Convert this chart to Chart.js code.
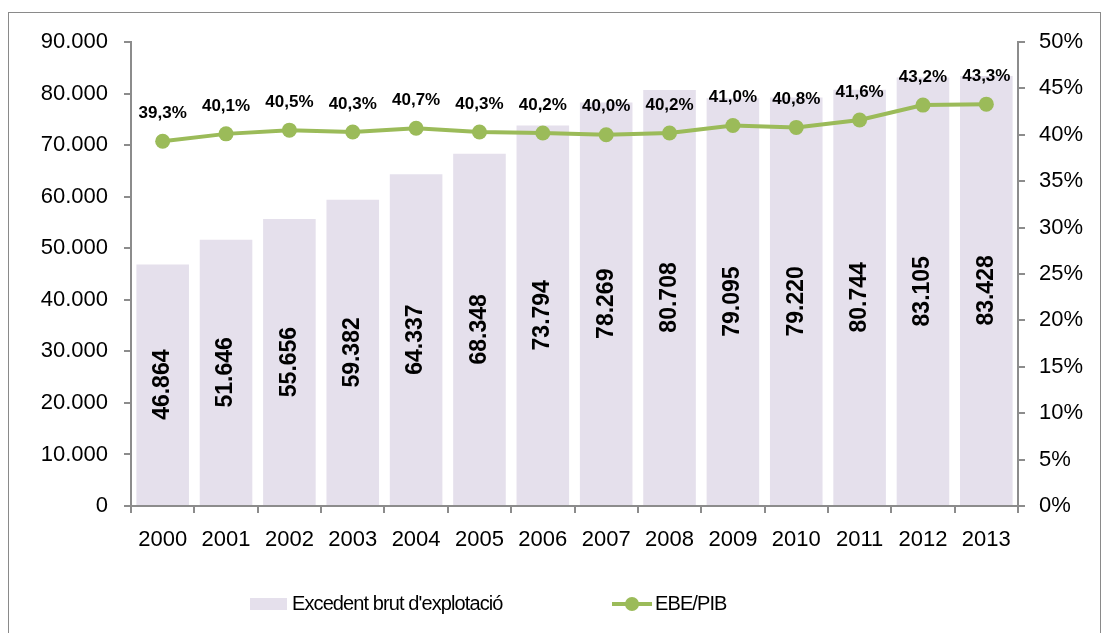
<!DOCTYPE html>
<html lang="ca">
<head>
<meta charset="UTF-8">
<title>Excedent brut d'explotació</title>
<style>
  body { margin: 0; background: #fff; }
  #wrap { position: relative; width: 1105px; height: 633px; overflow: hidden; }
  #frame { position: absolute; left: 8px; top: 12px; width: 1091px; height: 640px; border: 1px solid #8a8a8a; pointer-events: none; }
</style>
</head>
<body>
<div id="wrap">
  <canvas id="myChart"></canvas>
  <div id="frame"></div>
</div>

<script src="https://cdn.jsdelivr.net/npm/chart.js"></script>
<script>
// dades
const years = ["2000","2001","2002","2003","2004","2005","2006","2007","2008","2009","2010","2011","2012","2013"];
const ebe = [46864, 51646, 55656, 59382, 64337, 68348, 73794, 78269, 80708, 79095, 79220, 80744, 83105, 83428];
const ebePib = [39.3, 40.1, 40.5, 40.3, 40.7, 40.3, 40.2, 40.0, 40.2, 41.0, 40.8, 41.6, 43.2, 43.3];

const barColor = '#e5e0ec';
const lineColor = '#9bbb59';
const axisColor = '#8c8c8c';
const fontFam = '"Liberation Sans", Arial, sans-serif';

function fmtThousands(v){
    return String(Math.round(v)).replace(/\B(?=(\d{3})+(?!\d))/g, '.');
}

// etiquetes de dades + llegenda
const labelsPlugin = {
    id: 'labels',
    afterDatasetsDraw(chart){
        const ctx = chart.ctx;
        ctx.save();
        ctx.fillStyle = '#000';
        // barres: text vertical al mig
        const barMeta = chart.getDatasetMeta(0);
        ctx.font = 'bold 23px ' + fontFam;
        ctx.textAlign = 'center';
        ctx.textBaseline = 'middle';
        barMeta.data.forEach(function(el, i){
            ctx.save();
            ctx.translate(el.x, (el.y + el.base) / 2);
            ctx.rotate(-Math.PI / 2);
            ctx.fillText(fmtThousands(ebe[i]), 0, 0);
            ctx.restore();
        });
        // línia: sobre el punt
        const lineMeta = chart.getDatasetMeta(1);
        ctx.font = 'bold 17px ' + fontFam;
        lineMeta.data.forEach(function(el, i){
            ctx.fillText(ebePib[i].toFixed(1).replace('.', ',') + '%', el.x, el.y - 28);
        });
        ctx.restore();
    },
    afterDraw(chart){
        const ctx = chart.ctx;
        const y = 604;
        ctx.save();
        ctx.font = '20px ' + fontFam;
        ctx.textBaseline = 'middle';
        ctx.textAlign = 'left';
        ctx.fillStyle = '#000';
        if ('letterSpacing' in ctx) ctx.letterSpacing = '-0.9px';
        // barra
        ctx.fillStyle = barColor;
        ctx.fillRect(250, y - 6, 37, 12);
        ctx.fillStyle = '#000';
        ctx.fillText(chart.data.datasets[0].label, 292, y);
        // línia
        ctx.strokeStyle = lineColor;
        ctx.lineWidth = 4;
        ctx.beginPath();
        ctx.moveTo(612, y);
        ctx.lineTo(652, y);
        ctx.stroke();
        ctx.fillStyle = lineColor;
        ctx.beginPath();
        ctx.arc(632, y, 7, 0, Math.PI * 2);
        ctx.fill();
        ctx.fillStyle = '#000';
        ctx.fillText(chart.data.datasets[1].label, 655, y);
        ctx.restore();
    }
};

const ctx = document.getElementById('myChart');
const myChart = new Chart(ctx, {
    type: 'bar',
    data: {
        labels: years,
        datasets: [{
            type: 'bar',
            label: "Excedent brut d'explotació",
            data: ebe,
            backgroundColor: barColor,
            borderWidth: 0,
            barPercentage: 0.83,
            categoryPercentage: 1.0,
            yAxisID: 'y',
            order: 1
        }, {
            type: 'line',
            label: 'EBE/PIB',
            data: ebePib,
            borderColor: lineColor,
            backgroundColor: lineColor,
            borderWidth: 4,
            pointRadius: 7.5,
            pointHoverRadius: 7.5,
            pointBorderWidth: 0,
            tension: 0,
            yAxisID: 'y1',
            order: 0
        }]
    },
    options: {
        responsive: true,
        maintainAspectRatio: false,
        animation: false,
        layout: { padding: { left: 0, right: 0, top: 42, bottom: 67 } },
        plugins: {
            legend: { display: false },
            tooltip: { enabled: false }
        },
        scales: {
            x: {
                offset: true,
                grid: { display: true, drawOnChartArea: false, offset: true, color: axisColor, lineWidth: 2, tickLength: 7 },
                border: { color: axisColor, width: 2 },
                ticks: { color: '#000', font: { family: fontFam, size: 22 }, padding: 14, maxRotation: 0 },
                afterFit(scale){ scale.height = 60; }
            },
            y: {
                position: 'left',
                min: 0,
                max: 90000,
                grid: { drawOnChartArea: false, color: axisColor, lineWidth: 2, tickLength: 7 },
                border: { color: axisColor, width: 2 },
                ticks: {
                    stepSize: 10000,
                    color: '#000',
                    font: { family: fontFam, size: 22 },
                    padding: 16,
                    callback: function(v){ return v === 0 ? '0' : fmtThousands(v); }
                },
                afterFit(scale){ scale.width = 131; }
            },
            y1: {
                position: 'right',
                min: 0,
                max: 50,
                grid: { drawOnChartArea: false, color: axisColor, lineWidth: 2, tickLength: 7 },
                border: { color: axisColor, width: 2 },
                ticks: {
                    stepSize: 5,
                    color: '#000',
                    font: { family: fontFam, size: 22 },
                    padding: 14,
                    callback: function(v){ return v + '%'; }
                },
                afterFit(scale){ scale.width = 87; }
            }
        }
    },
    plugins: [labelsPlugin]
});
</script>
</body>
</html>
